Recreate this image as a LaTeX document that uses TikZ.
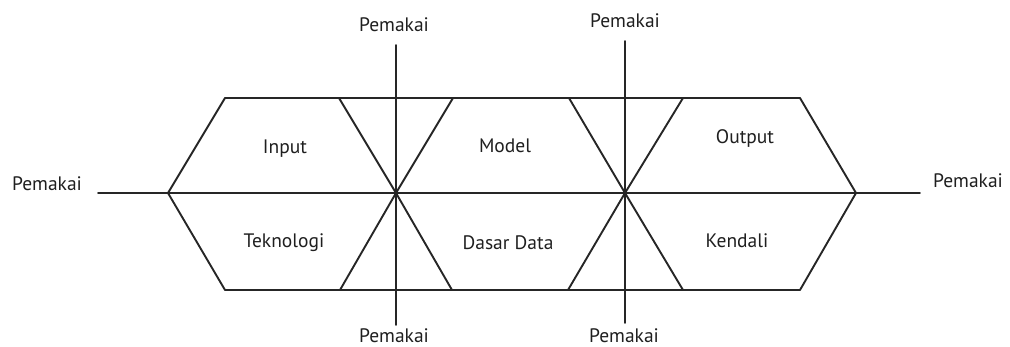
\documentclass[tikz,border=0pt]{standalone}
\usepackage{fontspec}
\setmainfont{PT Sans}
\begin{document}
\begin{tikzpicture}[x=1pt,y=-1pt,
  wire/.style={draw=black!85, line width=1.9pt, line cap=round, line join=round},
  lbl/.style={anchor=base, text=black!88, font=\fontsize{19.5}{22}\selectfont, inner sep=0pt}]
\useasboundingbox (0,0) rectangle (1010,347);

% user labels
\node[lbl] (uL)  at (47,191)  {Pemakai};
\node[lbl] (uR)  at (968,188) {Pemakai};
\node[lbl] (uT1) at (394,32)  {Pemakai};
\node[lbl] (uT2) at (625,28)  {Pemakai};
\node[lbl] (uB1) at (394,343) {Pemakai};
\node[lbl] (uB2) at (624,343) {Pemakai};

% component labels
\node[lbl] (in)  at (285,154) {Input};
\node[lbl] (tek) at (284,248) {Teknologi};
\node[lbl] (mod) at (505,153) {Model};
\node[lbl] (dd)  at (508,250) {Dasar Data};
\node[lbl] (out) at (745,144) {Output};
\node[lbl] (ken) at (737,248) {Kendali};

% hub points where the blocks meet
\coordinate (h1) at (396,193);
\coordinate (h2) at (625,193);
\coordinate (pL) at (168,193);
\coordinate (pR) at (856,193);

% ends of the axes
\coordinate (aL) at (98,193);
\coordinate (aR) at (920,193);
\coordinate (t1) at (396,45);
\coordinate (b1) at (396,325);
\coordinate (t2) at (625,41);
\coordinate (b2) at (625,323);

% corners of the blocks
\coordinate (A1) at (225,98);  \coordinate (A2) at (339,98);
\coordinate (A3) at (453,98);  \coordinate (A4) at (569,98);
\coordinate (A5) at (683,98);  \coordinate (A6) at (800,98);
\coordinate (B1) at (225,290); \coordinate (B2) at (340,290);
\coordinate (B3) at (452,290); \coordinate (B4) at (568,290);
\coordinate (B5) at (683,290); \coordinate (B6) at (800,290);

% axes
\draw[wire] (aL) -- (aR);
\draw[wire] (t1) -- (b1);
\draw[wire] (t2) -- (b2);

% top and bottom edges
\draw[wire] (A1) -- (A6);
\draw[wire] (B1) -- (B6);

% outer points
\draw[wire] (A1) -- (pL) -- (B1);
\draw[wire] (A6) -- (pR) -- (B6);

% crossings at the hubs
\draw[wire] (A2) -- (h1) -- (B3);
\draw[wire] (A3) -- (h1) -- (B2);
\draw[wire] (A4) -- (h2) -- (B5);
\draw[wire] (A5) -- (h2) -- (B4);
\end{tikzpicture}
\end{document}
